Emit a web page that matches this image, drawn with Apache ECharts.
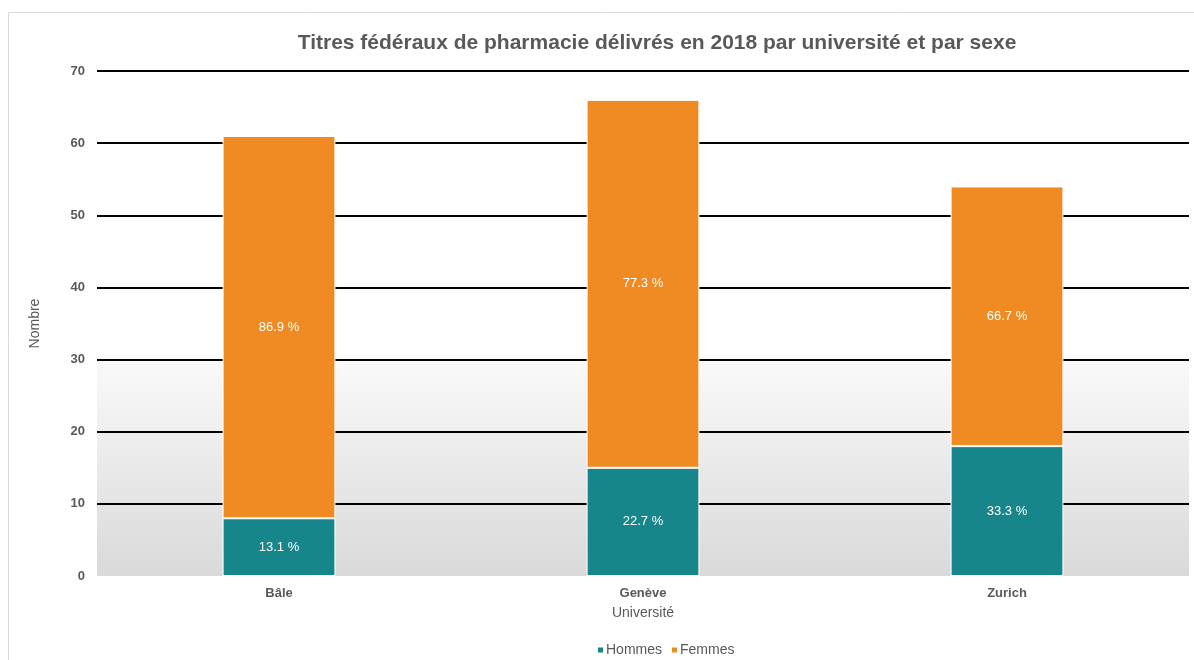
<!DOCTYPE html>
<html>
<head>
<meta charset="utf-8">
<script src="https://cdn.jsdelivr.net/npm/echarts@6/dist/echarts.min.js"></script>
<style>
  html, body { margin: 0; padding: 0; background: #fff; }
  #chart { width: 1194px; height: 660px; }
</style>
</head>
<body>
<div id="chart"></div>
<script>
// données
const universites = ['Bâle', 'Genève', 'Zurich'];
const hommes = [8, 15, 18];
const femmes = [53, 51, 36];
const yTicks = [0, 10, 20, 30, 40, 50, 60, 70];

const totals = universites.map((u, i) => hommes[i] + femmes[i]);
const pct = (v, i) => (v / totals[i] * 100).toFixed(1) + ' %';

const font = '"Liberation Sans", Arial, sans-serif';
const grey = '#595959';

let myChart = echarts.init(document.getElementById('chart'));

let option = {
	animation: false,
	textStyle: { fontFamily: font },
	title: {
		text: 'Titres fédéraux de pharmacie délivrés en 2018 par université et par sexe',
		left: 652,
		textAlign: 'center',
		top: 28,
		textStyle: { fontSize: 21, fontWeight: 'bold', color: grey, fontFamily: font }
	},
	graphic: [{
		type: 'rect',
		shape: { x: 8.5, y: 12.5, width: 1300, height: 800 },
		style: { fill: 'none', stroke: '#d9d9d9', lineWidth: 1 },
		silent: true
	}],
	legend: {
		left: 591,
		top: 638,
		icon: 'rect',
		itemWidth: 7,
		itemHeight: 7,
		itemGap: 8,
		textStyle: { fontSize: 14, color: grey, fontFamily: font, padding: [0, 0, 0, -3] },
		data: ['Hommes', 'Femmes']
	},
	grid: {
		left: 97,
		right: 5,
		top: 71,
		bottom: 84,
		show: true,
		borderWidth: 0,
		backgroundColor: new echarts.graphic.LinearGradient(0, 0, 0, 1, [
			{ offset: 0, color: '#ffffff' },
			{ offset: 0.57, color: '#ffffff' },
			{ offset: 0.575, color: '#f9f9f9' },
			{ offset: 1, color: '#d9d9d9' }
		])
	},
	xAxis: {
		type: 'category',
		data: universites,
		name: 'Université',
		nameLocation: 'middle',
		nameGap: 30,
		nameTextStyle: { fontSize: 14, color: grey, fontFamily: font },
		axisLine: { show: false },
		axisTick: { show: false },
		axisLabel: { fontSize: 13, fontWeight: 'bold', color: grey, margin: 11, fontFamily: font }
	},
	yAxis: {
		type: 'value',
		min: yTicks[0],
		max: yTicks[yTicks.length - 1],
		interval: 10,
		name: 'Nombre',
		nameLocation: 'middle',
		nameRotate: 90,
		nameGap: 55,
		nameTextStyle: { fontSize: 14, color: grey, fontFamily: font },
		axisLine: { show: false },
		axisTick: { show: false },
		axisLabel: {
			fontSize: 13, fontWeight: 'bold', color: grey, margin: 12, fontFamily: font,
			formatter: v => yTicks.includes(v) ? String(v) : ''
		},
		splitLine: {
			showMinLine: false,
			lineStyle: { color: '#000000', width: 2 }
		}
	},
	series: [
		{
			name: 'Hommes',
			type: 'bar',
			stack: 'total',
			barWidth: '31%',
			data: hommes,
			itemStyle: { color: '#17868a', borderColor: '#ffffff', borderWidth: 1 },
			label: {
				show: true,
				position: 'inside',
				color: '#ffffff',
				fontSize: 13,
				fontFamily: font,
				formatter: p => pct(p.value, p.dataIndex)
			}
		},
		{
			name: 'Femmes',
			type: 'bar',
			stack: 'total',
			data: femmes,
			itemStyle: { color: '#f08a22', borderColor: '#ffffff', borderWidth: 1 },
			label: {
				show: true,
				position: 'inside',
				color: '#ffffff',
				fontSize: 13,
				fontFamily: font,
				formatter: p => pct(p.value, p.dataIndex)
			}
		}
	]
};

myChart.setOption(option);
</script>
</body>
</html>
